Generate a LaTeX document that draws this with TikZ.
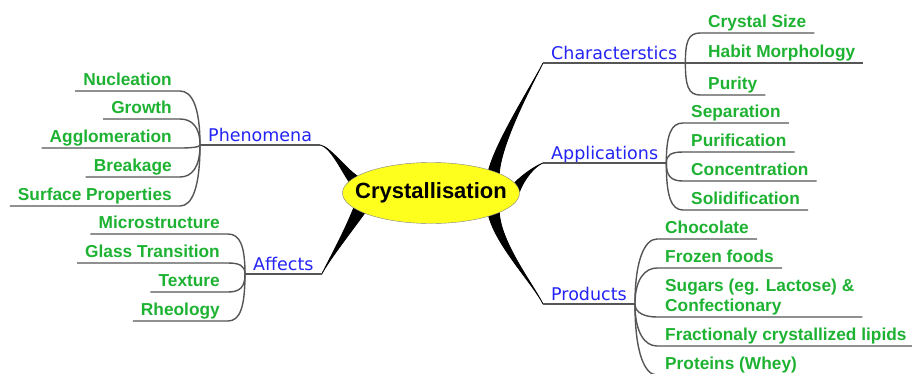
\documentclass[tikz,border=0pt]{standalone}
\usepackage{fontspec}
\setmainfont{Liberation Sans}
\newfontfamily\topicfont{DejaVu Sans}
\usetikzlibrary{shapes.geometric}

\pgfdeclarelayer{background}
\pgfsetlayers{background,main}

\definecolor{leafgreen}{RGB}{30,178,50}
\definecolor{topicblue}{RGB}{35,35,245}
\definecolor{twiggray}{RGB}{85,85,85}
\definecolor{coreyellow}{RGB}{255,255,30}

\begin{document}
\begin{tikzpicture}[x=1pt,y=-1pt,
  core/.style={ellipse,draw=gray,fill=coreyellow,minimum width=177,minimum height=61,inner sep=0pt,font=\fontsize{22}{26}\bfseries},
  topic/.style={anchor=south west,text=topicblue,font=\topicfont\fontsize{17.5}{21}\selectfont,inner xsep=8pt,inner ysep=3pt,text depth=0pt},
  leaf/.style={text=leafgreen,font=\fontsize{17.3}{20}\selectfont\bfseries,inner xsep=8pt,inner ysep=5pt,text depth=0pt},
  twig/.style={draw=twiggray,line width=1.4pt},
  limb/.style={fill=black,draw=black,line width=0.8pt,line join=round}]
\def\sprig#1#2#3{\draw[twig] (#1) .. controls +(0,#3) and +(-12,0) .. (#2.south west) -- (#2.south east);}
\def\sprigL#1#2#3{\draw[twig] (#2.south west) -- (#2.south east) .. controls +(12,0) and +(0,#3) .. (#1);}
\useasboundingbox (0,0) rectangle (912,373);

\node[core] (core) at (431,193) {\makebox[0pt]{Crystallisation}};

\node[topic] (char) at (543,63) {Characterstics};
\node[topic] (appl) at (543,163) {Applications};
\node[topic] (prod) at (543,304) {Products};
\node[topic] (phen) at (200,145) {Phenomena};
\node[topic] (aff) at (245,274) {Affects};

% right hand leaves
\node[leaf,anchor=south west] (size) at (700,33) {Crystal Size};
\node[leaf,anchor=south west] (habit) at (700,63) {Habit Morphology};
\node[leaf,anchor=south west] (purity) at (700,95) {Purity};
\node[leaf,anchor=south west] (sep) at (683,123) {Separation};
\node[leaf,anchor=south west] (purif) at (683,152) {Purification};
\node[leaf,anchor=south west] (conc) at (683,181) {Concentration};
\node[leaf,anchor=south west] (solid) at (683,210) {Solidification};
\node[leaf,anchor=south west] (choc) at (657,239) {Chocolate};
\node[leaf,anchor=south west] (frozen) at (657,268) {Frozen foods};
\node[leaf,anchor=south west,text depth=,align=left,inner ysep=2pt] (sugar) at (657,317) {Sugars (eg. Lactose) \&\\Confectionary};
\node[leaf,anchor=south west] (lipid) at (657,346) {Fractionaly crystallized lipids};
\node[leaf,anchor=south west] (whey) at (657,375) {Proteins (Whey)};

% left hand leaves
\node[leaf,anchor=south east] (nucl) at (180,91) {Nucleation};
\node[leaf,anchor=south east] (growth) at (180,119) {Growth};
\node[leaf,anchor=south east] (agglo) at (180,148) {Agglomeration};
\node[leaf,anchor=south east] (break) at (180,177) {Breakage};
\node[leaf,anchor=south east] (surf) at (180,206) {Surface Properties};
\node[leaf,anchor=south east] (micro) at (228,234) {Microstructure};
\node[leaf,anchor=south east] (glass) at (228,263) {Glass Transition};
\node[leaf,anchor=south east] (text) at (228,292) {Texture};
\node[leaf,anchor=south east] (rheo) at (228,321) {Rheology};

% topic underlines
\foreach \t in {char,appl,prod,phen,aff}
  \draw[twig] (\t.south west) -- (\t.south east);

% thick limbs behind the ellipse
\begin{pgfonlayer}{background}
\fill[limb] (core.22) .. controls +(8,-30) and +(-10,20) .. (char.south west) .. controls +(-10,20) and +(2,-31) .. (core.16.5) -- cycle;
\fill[limb] (core.7) .. controls +(8,-8) and +(-8,3) .. (appl.south west) .. controls +(-8,3) and +(5,-13) .. (core.1) -- cycle;
\fill[limb] (core.-22) .. controls +(8,30) and +(-10,-20) .. (prod.south west) .. controls +(-10,-20) and +(2,31) .. (core.-16.5) -- cycle;
\fill[limb] (core.172) .. controls +(-8,-12) and +(10,2) .. (phen.south east) .. controls +(10,2) and +(-13,-9) .. (core.167) -- cycle;
\fill[limb] (core.-169) .. controls +(-10,25) and +(6,-12) .. (aff.south east) .. controls +(6,-12) and +(-16,22) .. (core.-163) -- cycle;
\end{pgfonlayer}

% twigs
\sprig{char.south east}{size}{-21}
\draw[twig] (char.south east) -- (habit.south west) -- (habit.south east);
\sprig{char.south east}{purity}{22}
\sprig{appl.south east}{sep}{-28}
\sprig{appl.south east}{purif}{-8}
\sprig{appl.south east}{conc}{13}
\sprig{appl.south east}{solid}{33}
\sprig{prod.south east}{choc}{-45}
\sprig{prod.south east}{frozen}{-25}
\sprig{prod.south east}{sugar}{9}
\sprig{prod.south east}{lipid}{29}
\sprig{prod.south east}{whey}{50}

\sprigL{phen.south west}{nucl}{-38}
\sprigL{phen.south west}{growth}{-18}
\sprigL{phen.south west}{agglo}{2}
\sprigL{phen.south west}{break}{22}
\sprigL{phen.south west}{surf}{43}
\sprigL{aff.south west}{micro}{-28}
\sprigL{aff.south west}{glass}{-8}
\sprigL{aff.south west}{text}{13}
\sprigL{aff.south west}{rheo}{33}
\end{tikzpicture}
\end{document}
